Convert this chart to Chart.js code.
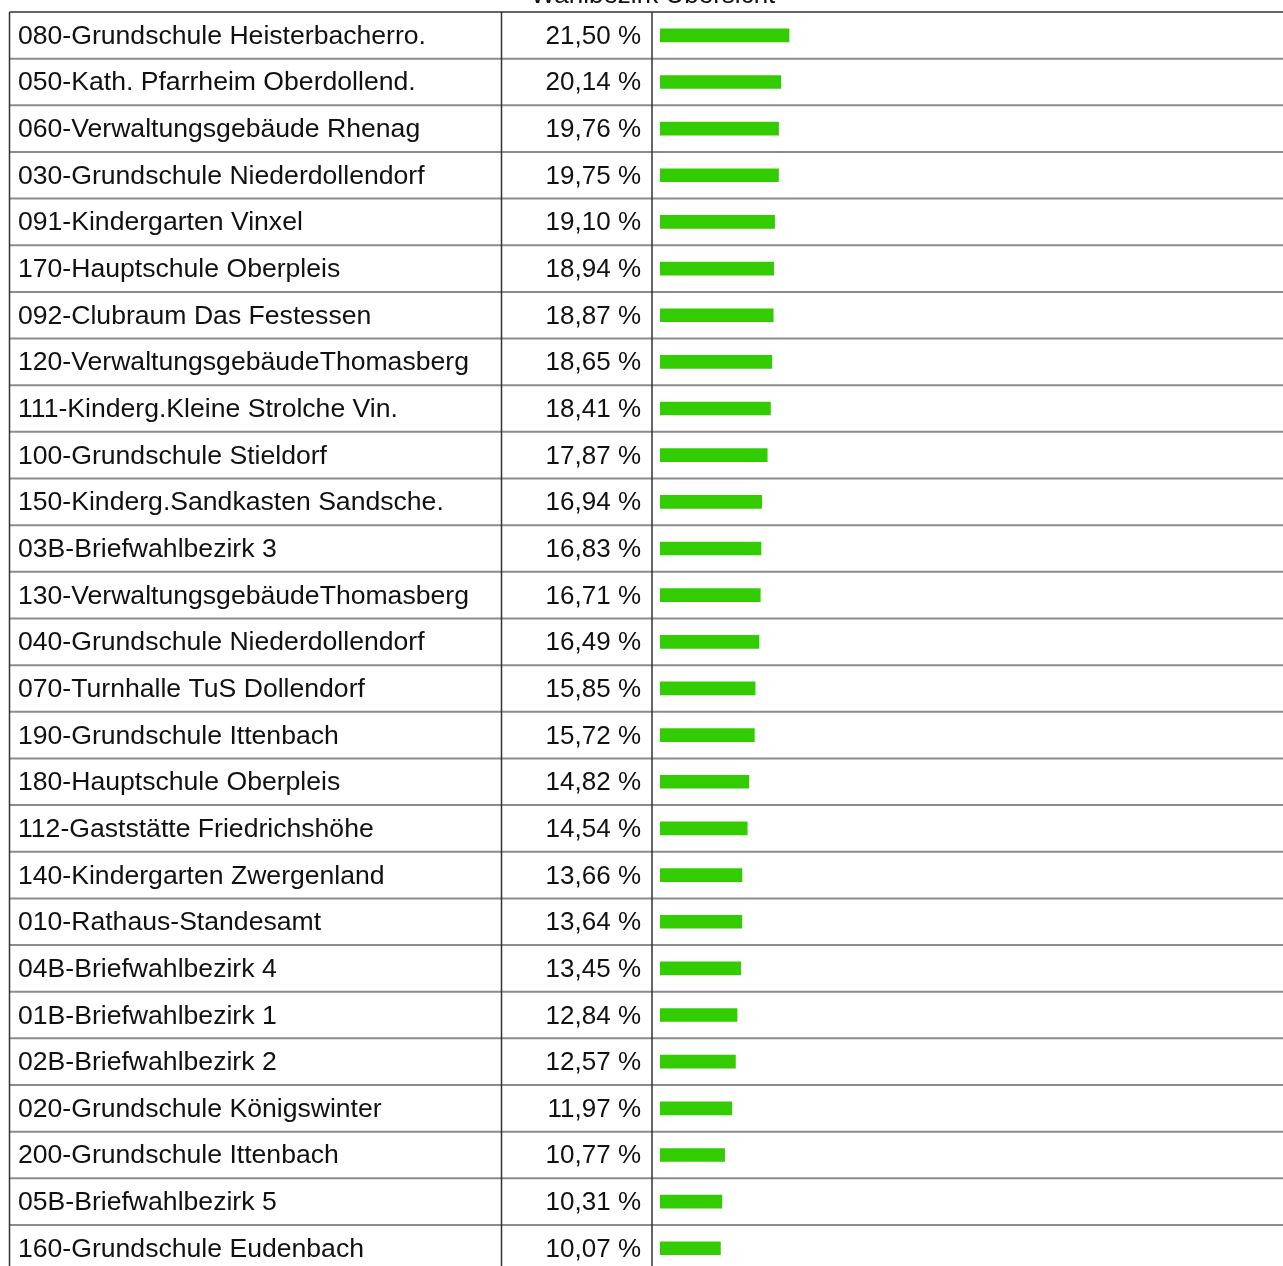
<!DOCTYPE html>
<html lang="de">
<head>
<meta charset="utf-8">
<title>Wahlbezirk Übersicht</title>
<script src="https://cdn.jsdelivr.net/npm/chart.js@4/dist/chart.umd.min.js"></script>
<style>
  html, body { margin: 0; padding: 0; background: #fff; overflow: hidden; }
  canvas { display: block; }
</style>
</head>
<body>
<canvas id="wahlChart" width="1283" height="1272"></canvas>
<script>
const titel = "Wahlbezirk Übersicht";

const bezirke = [
  "080-Grundschule Heisterbacherro.",
  "050-Kath. Pfarrheim Oberdollend.",
  "060-Verwaltungsgebäude Rhenag",
  "030-Grundschule Niederdollendorf",
  "091-Kindergarten Vinxel",
  "170-Hauptschule Oberpleis",
  "092-Clubraum Das Festessen",
  "120-VerwaltungsgebäudeThomasberg",
  "111-Kinderg.Kleine Strolche Vin.",
  "100-Grundschule Stieldorf",
  "150-Kinderg.Sandkasten Sandsche.",
  "03B-Briefwahlbezirk 3",
  "130-VerwaltungsgebäudeThomasberg",
  "040-Grundschule Niederdollendorf",
  "070-Turnhalle TuS Dollendorf",
  "190-Grundschule Ittenbach",
  "180-Hauptschule Oberpleis",
  "112-Gaststätte Friedrichshöhe",
  "140-Kindergarten Zwergenland",
  "010-Rathaus-Standesamt",
  "04B-Briefwahlbezirk 4",
  "01B-Briefwahlbezirk 1",
  "02B-Briefwahlbezirk 2",
  "020-Grundschule Königswinter",
  "200-Grundschule Ittenbach",
  "05B-Briefwahlbezirk 5",
  "160-Grundschule Eudenbach"
];

const anteile = [
  21.50, 20.14, 19.76, 19.75, 19.10, 18.94, 18.87, 18.65, 18.41,
  17.87, 16.94, 16.83, 16.71, 16.49, 15.85, 15.72, 14.82, 14.54,
  13.66, 13.64, 13.45, 12.84, 12.57, 11.97, 10.77, 10.31, 10.07
];

const FONT_NAME = "26.6px 'Liberation Sans', Arial, sans-serif";
const FONT_WERT = "26px 'Liberation Sans', Arial, sans-serif";

const formatProzent = v => v.toFixed(2).replace(".", ",") + " %";

function strich(ctx, x1, y1, x2, y2) {
  ctx.beginPath();
  ctx.moveTo(x1, y1);
  ctx.lineTo(x2, y2);
  ctx.stroke();
}

// draws the table grid behind the bars and the name / value columns on top
const tabelle = {
  id: "tabelle",
  beforeDatasetsDraw(chart, args, opts) {
    const { ctx, chartArea, scales: { y } } = chart;
    const half = (y.getPixelForValue(1) - y.getPixelForValue(0)) / 2;
    const top = chartArea.top;
    const bottom = chartArea.bottom;
    ctx.save();

    ctx.strokeStyle = "#8c8c8c";
    ctx.lineWidth = 2;
    bezirke.forEach((_, i) => {
      const yy = y.getPixelForValue(i) + half;
      strich(ctx, opts.links, yy, chart.width, yy);
    });

    ctx.strokeStyle = "#333";
    ctx.lineWidth = 1.5;
    strich(ctx, opts.links, top, chart.width, top);
    [opts.links, opts.spalte1, opts.spalte2].forEach(x => {
      strich(ctx, x, top, x, bottom);
    });

    ctx.restore();
  },
  afterDatasetsDraw(chart, args, opts) {
    const { ctx, scales: { y } } = chart;
    ctx.save();
    ctx.fillStyle = "#111";
    ctx.textBaseline = "alphabetic";

    ctx.font = FONT_WERT;
    ctx.textAlign = "center";
    ctx.fillText(titel, opts.titelX, 2.5);

    bezirke.forEach((name, i) => {
      const yy = y.getPixelForValue(i) + 8.5;
      ctx.font = FONT_NAME;
      ctx.textAlign = "left";
      ctx.fillText(name, opts.links + 8.5, yy);
      ctx.font = FONT_WERT;
      ctx.textAlign = "right";
      ctx.fillText(formatProzent(anteile[i]), opts.spalte2 - 11, yy);
    });
    ctx.restore();
  }
};

new Chart(document.getElementById("wahlChart"), {
  type: "bar",
  data: {
    labels: bezirke,
    datasets: [{
      data: anteile,
      backgroundColor: "#33cc00",
      borderWidth: 0,
      barThickness: 13
    }]
  },
  options: {
    indexAxis: "y",
    responsive: false,
    animation: false,
    devicePixelRatio: 1,
    layout: {
      padding: { left: 660, right: 23, top: 12, bottom: 0.4 }
    },
    scales: {
      x: { display: false, min: 0, max: 100 },
      y: { display: false }
    },
    plugins: {
      legend: { display: false },
      tooltip: { enabled: false },
      tabelle: { links: 9.5, spalte1: 501.5, spalte2: 652, titelX: 653 }
    }
  },
  plugins: [tabelle]
});
</script>
</body>
</html>
